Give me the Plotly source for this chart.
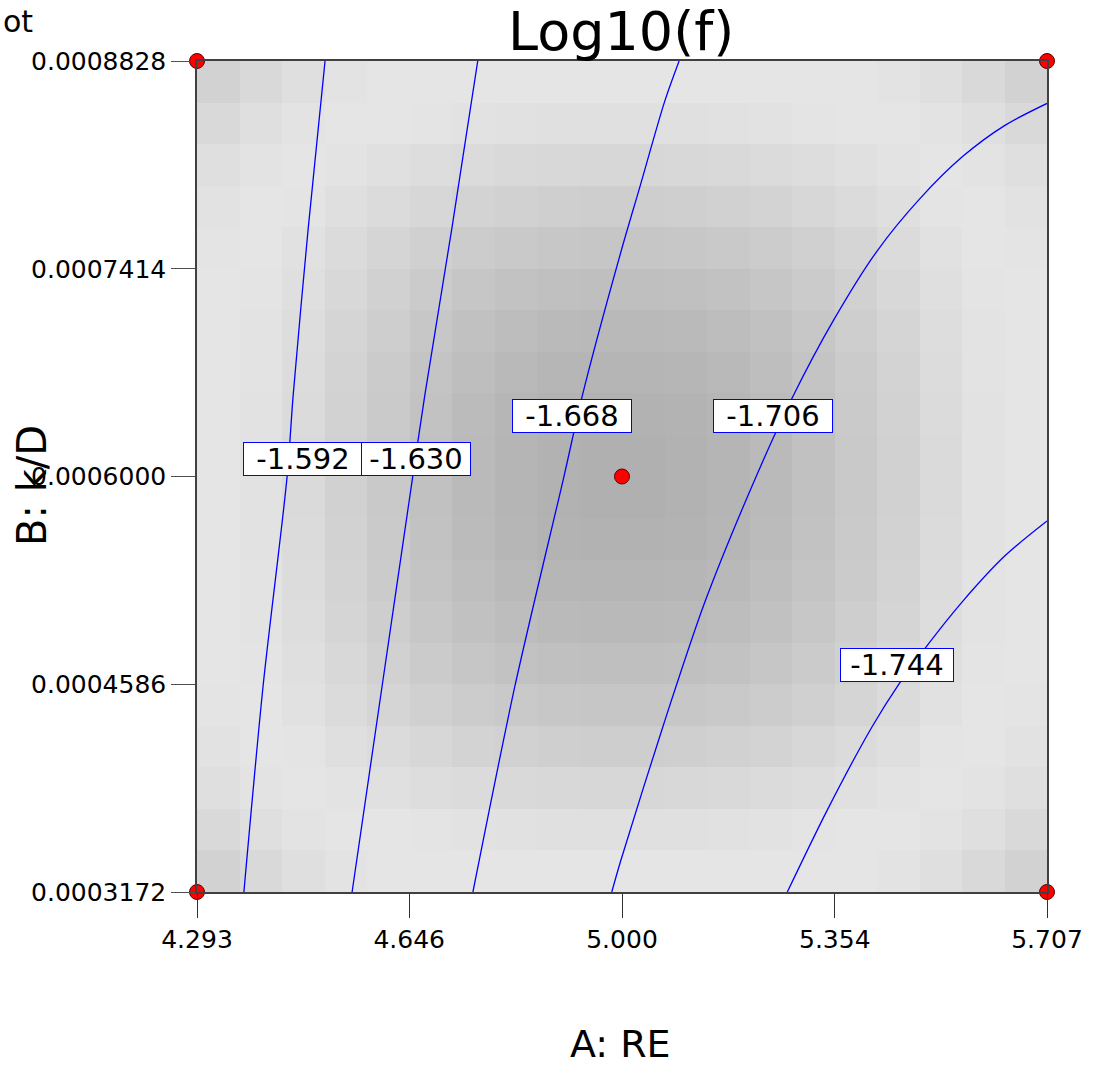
import plotly.graph_objects as go
import numpy as np

# ---------------- data ----------------
x_ticks = [4.293, 4.646, 5.000, 5.354, 5.707]
x_ticktext = ["4.293", "4.646", "5.000", "5.354", "5.707"]
y_ticks = [0.0003172, 0.0004586, 0.0006000, 0.0007414, 0.0008828]
y_ticktext = ["0.0003172", "0.0004586", "0.0006000", "0.0007414", "0.0008828"]

# gray shading of the 20 x 20 background cells (0=black, 255=white), rows listed top to bottom
shade_rows_top_to_bottom = [
    [210,217,223,227,229,229,229,229,229,229,229,229,229,229,229,229,227,223,217,210],
    [217,223,227,229,229,228,226,225,224,224,224,224,225,226,228,229,229,227,223,217],
    [223,227,229,227,224,221,219,217,216,215,215,216,217,219,221,224,227,229,227,223],
    [226,229,228,223,219,215,211,209,207,206,206,207,209,211,215,219,223,228,229,226],
    [228,229,225,219,213,208,204,201,199,198,198,199,201,204,208,213,219,225,229,228],
    [229,228,223,216,209,203,198,194,192,191,191,192,194,198,203,209,216,223,228,229],
    [229,227,221,213,206,199,193,189,186,185,185,186,189,193,199,206,213,221,227,229],
    [229,227,220,211,203,196,190,185,182,181,181,182,185,190,196,203,211,220,227,229],
    [229,226,219,210,202,194,187,182,179,178,178,179,182,187,194,202,210,219,226,229],
    [229,226,218,209,201,193,186,181,178,176,176,178,181,186,193,201,209,218,226,229],
    [229,226,218,209,201,193,186,181,178,176,176,178,181,186,193,201,209,218,226,229],
    [229,226,219,210,202,194,187,182,179,178,178,179,182,187,194,202,210,219,226,229],
    [229,227,220,211,203,196,190,185,182,181,181,182,185,190,196,203,211,220,227,229],
    [229,227,221,213,206,199,193,189,186,185,185,186,189,193,199,206,213,221,227,229],
    [229,228,223,216,209,203,198,194,192,191,191,192,194,198,203,209,216,223,228,229],
    [228,229,225,219,213,208,204,201,199,198,198,199,201,204,208,213,219,225,229,228],
    [226,229,228,223,219,215,211,209,207,206,206,207,209,211,215,219,223,228,229,226],
    [223,227,229,227,224,221,219,217,216,215,215,216,217,219,221,224,227,229,227,223],
    [217,223,227,229,229,228,226,225,224,224,224,224,225,226,228,229,229,227,223,217],
    [210,217,223,227,229,229,229,229,229,229,229,229,229,229,229,229,227,223,217,210],
]

# contour lines of Log10(f) (A: RE, B: k/D)
c1592_x = [4.506, 4.478, 4.453, 4.443, 4.403, 4.371]
c1592_y = [0.0008828, 0.0007689, 0.0006554, 0.0006003, 0.0004576, 0.0003172]
c1630_x = [4.760, 4.717, 4.672, 4.652, 4.601, 4.551]
c1630_y = [0.0008828, 0.0007689, 0.0006554, 0.0006003, 0.0004576, 0.0003172]
c1668_x = [5.095, 5.071, 5.030, 4.998, 4.933, 4.904, 4.822, 4.752]
c1668_y = [0.0008828, 0.0008553, 0.0007975, 0.0007526, 0.0006534, 0.0006010, 0.0004576, 0.0003172]
c1706_x = [5.707, 5.637, 5.567, 5.496, 5.424, 5.351, 5.283, 5.225, 5.138, 5.068, 4.998, 4.983]
c1706_y = [0.0008539, 0.0008390, 0.0008179, 0.0007893, 0.0007533, 0.0007057, 0.0006534,
           0.0006017, 0.0005147, 0.0004297, 0.0003386, 0.0003172]
c1744_x = [5.707, 5.637, 5.566, 5.506, 5.462, 5.416, 5.341, 5.275]
c1744_y = [0.0005697, 0.0005460, 0.0005147, 0.0004841, 0.0004596, 0.0004297, 0.0003726, 0.0003172]

contour_levels = ["-1.592", "-1.630", "-1.668", "-1.706", "-1.744"]
label_x = [4.469, 4.657, 4.917, 5.251, 5.457]
label_y = [0.0006119, 0.0006119, 0.0006415, 0.0006415, 0.0004719]

# design points
design_A = [4.293, 4.293, 5.707, 5.707, 5.000]
design_B = [0.0003172, 0.0008828, 0.0003172, 0.0008828, 0.0006000]

# ---------------- figure ----------------
W, H = 1097, 1070
ML, MR, MT, MB = 197, 50, 60.5, 177.5
FONT = "DejaVu Sans"
label_box_w = [118, 108, 118, 118, 112]

x0, x1 = x_ticks[0], x_ticks[-1]
y0, y1 = y_ticks[0], y_ticks[-1]
nrow = len(shade_rows_top_to_bottom)
ncol = len(shade_rows_top_to_bottom[0])
x_edges = np.linspace(x0, x1, ncol + 1)
y_edges = np.linspace(y0, y1, nrow + 1)
z = shade_rows_top_to_bottom[::-1]

fig = go.Figure()
fig.add_trace(go.Heatmap(
    x=x_edges, y=y_edges, z=z,
    zmin=0, zmax=255,
    colorscale=[[0, "rgb(0,0,0)"], [1, "rgb(255,255,255)"]],
    showscale=False, hoverinfo="skip",
))

for cx, cy in [(c1592_x, c1592_y), (c1630_x, c1630_y), (c1668_x, c1668_y),
               (c1706_x, c1706_y), (c1744_x, c1744_y)]:
    fig.add_trace(go.Scatter(x=cx, y=cy, mode="lines",
                             line=dict(color="#0000ff", width=1.3, shape="spline", smoothing=0.8),
                             showlegend=False, hoverinfo="skip"))

fig.add_trace(go.Scatter(
    x=design_A, y=design_B, mode="markers",
    marker=dict(color="#ff0000", size=15, line=dict(color="#5a0000", width=1)),
    cliponaxis=False, showlegend=False, hoverinfo="skip",
))

annotations = []
for txt, lx, ly, bw in zip(contour_levels, label_x, label_y, label_box_w):
    annotations.append(dict(
        x=lx, y=ly, xref="x", yref="y", text=txt, showarrow=False,
        font=dict(family=FONT, size=29, color="black"),
        bgcolor="white", bordercolor="#0000ff", borderwidth=1, borderpad=0,
        width=bw, height=32, align="center", valign="middle",
        xanchor="center", yanchor="middle",
    ))

plot_w = W - ML - MR
plot_h = H - MT - MB
def px_to_paper_x(px):
    return (px - ML) / plot_w
def py_to_paper_y(py):
    return (H - MB - py) / plot_h

# title
annotations.append(dict(
    x=px_to_paper_x(621), y=py_to_paper_y(31), xref="paper", yref="paper",
    text="Log10(f)", showarrow=False, xanchor="center", yanchor="middle",
    font=dict(family=FONT, size=54, color="black"),
))
# corner caption (clipped in the original)
annotations.append(dict(
    x=px_to_paper_x(1), y=py_to_paper_y(21), xref="paper", yref="paper",
    text="ot", showarrow=False, xanchor="left", yanchor="middle",
    font=dict(family=FONT, size=30, color="black"),
))
# axis titles
annotations.append(dict(
    x=px_to_paper_x(620), y=py_to_paper_y(1045), xref="paper", yref="paper",
    text="A: RE", showarrow=False, xanchor="center", yanchor="middle",
    font=dict(family=FONT, size=38, color="black"),
))
annotations.append(dict(
    x=px_to_paper_x(32), y=py_to_paper_y(486), xref="paper", yref="paper",
    text="B: k/D", showarrow=False, xanchor="center", yanchor="middle",
    textangle=-90,
    font=dict(family=FONT, size=40, color="black"),
))

fig.update_layout(
    width=W, height=H,
    margin=dict(l=ML, r=MR, t=MT, b=MB, pad=0),
    paper_bgcolor="white", plot_bgcolor="white",
    showlegend=False,
    annotations=annotations,
    font=dict(family=FONT, color="black"),
)
fig.update_xaxes(
    range=[x0, x1], tickvals=x_ticks, ticktext=x_ticktext,
    ticks="outside", ticklen=24, tickwidth=1, tickcolor="#303030",
    showgrid=False, zeroline=False,
    showline=True, linecolor="#404040", linewidth=1.5, mirror=True,
    tickfont=dict(family=FONT, size=25, color="black"),
)
fig.update_yaxes(
    range=[y0, y1], tickvals=y_ticks, ticktext=y_ticktext,
    ticks="outside", ticklen=24, tickwidth=1, tickcolor="#505050",
    showgrid=False, zeroline=False,
    showline=True, linecolor="#404040", linewidth=1.5, mirror=True,
    tickfont=dict(family=FONT, size=25, color="black"),
)

fig.write_html("out.html")
